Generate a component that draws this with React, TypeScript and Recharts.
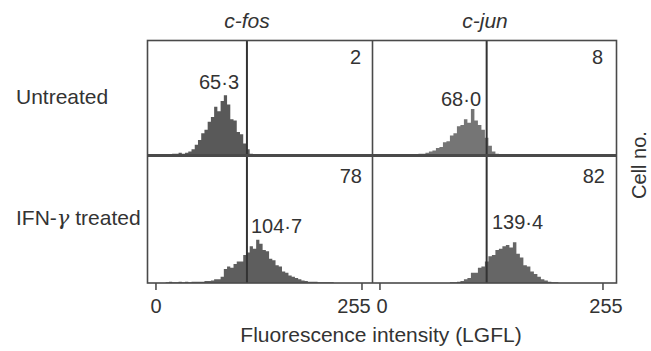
import { AreaChart, Area, XAxis, YAxis, ReferenceLine } from "recharts";

// histogram bins (fluorescence channel, 0-255), 4 channels each
const bins = [
  0, 4, 8, 12, 16, 20, 24, 28, 32, 36, 40, 44, 48, 52, 56, 60,
  64, 68, 72, 76, 80, 84, 88, 92, 96, 100, 104, 108, 112, 116, 120, 124,
  128, 132, 136, 140, 144, 148, 152, 156, 160, 164, 168, 172, 176, 180, 184, 188,
  192, 196, 200, 204, 208, 212, 216, 220, 224, 228, 232, 236, 240, 244, 248, 252,
];

// cell counts (% of panel height)
const fosUntreated = [
  0, 0, 0, 0, 0, 1, 1, 2, 1, 2, 3, 5, 9, 13, 19, 22,
  29, 33, 42, 38, 47, 52, 44, 31, 30, 20, 18, 10, 5, 1, 0, 0,
  0, 0, 0, 0, 0, 0, 0, 0, 0, 0, 0, 0, 0, 0, 0, 0,
  0, 0, 0, 0, 0, 0, 0, 0, 0, 0, 0, 0, 0, 0, 0, 0,
];
const junUntreated = [
  0, 0, 0, 0, 0, 0, 0, 0, 0, 0, 0, 1, 1, 2, 3, 4,
  6, 7, 11, 12, 17, 19, 25, 26, 31, 28, 40, 30, 26, 22, 15, 8,
  3, 1, 0, 0, 0, 0, 0, 0, 0, 0, 0, 0, 0, 0, 0, 0,
  0, 0, 0, 0, 0, 0, 0, 0, 0, 0, 0, 0, 0, 0, 0, 0,
];
const fosTreated = [
  0, 0, 0, 0.5, 1, 0.5, 0.5, 1, 0.5, 1, 0.5, 1, 1, 1, 1, 1.5,
  1.5, 2, 3, 3, 5, 11, 13, 12, 15, 17, 17, 22, 24, 29, 27, 34,
  31, 26, 25, 19, 18, 14, 13, 9, 8, 6, 5, 4, 3, 2, 1.5, 1,
  1, 1, 0.5, 0.5, 0.5, 0.5, 0.5, 0, 0, 0, 0, 0, 0, 0, 0, 0,
];
const junTreated = [
  0, 0, 0, 0, 0, 0, 0, 0, 0, 0, 0, 0, 0, 0, 0, 0,
  0, 0, 0, 0, 0.5, 0.5, 1, 1.5, 3, 4, 8, 8, 12, 13, 17, 21,
  22, 26, 27, 29, 30, 28, 32, 23, 20, 14, 13, 9, 7, 5, 3, 2,
  1, 0.5, 0.5, 0, 0, 0, 0, 0, 0, 0, 0, 0, 0, 0, 0, 0,
];

const xTicks = [0, 255];
const columns = ["c-fos", "c-jun"];
const rows = ["Untreated", "IFN-"];
const meanLabels = ["65·3", "68·0", "104·7", "139·4"];
const percentLabels = ["2", "8", "78", "82"];

const FONT = "'Liberation Sans', Arial, Helvetica, sans-serif";
const INK = "#333";

const makeTick = (shift0: number, shift255: number) => (props: any) => {
  const { x, y, payload } = props;
  const dx = payload.value === 0 ? shift0 : shift255;
  return (
    <text x={x + dx} y={y + 21} textAnchor="middle" fill={INK} fontSize={20} fontFamily={FONT}>
      {payload.value}
    </text>
  );
};

function Panel({ left, top, width, plotHeight, domain, values, gate, axis, fill, tick }: any) {
  const data = bins.map((b, i) => ({ x: b, count: values[i] }));
  return (
    <div style={{ position: "absolute", left, top }}>
      <AreaChart
        width={width + 14}
        height={plotHeight + (axis ? 40 : 0)}
        data={data}
        margin={{ top: 0, right: 14, bottom: 0, left: 0 }}
      >
        <XAxis
          type="number"
          dataKey="x"
          domain={domain}
          allowDataOverflow
          hide={!axis}
          ticks={xTicks}
          interval={0}
          axisLine={false}
          tickSize={7}
          tickLine={{ stroke: "#444", strokeWidth: 1.5 }}
          height={40}
          tick={tick}
        />
        <YAxis hide domain={[0, 100]} allowDataOverflow />
        <Area
          type="stepAfter"
          dataKey="count"
          stroke="none"
          fill={fill}
          fillOpacity={0.9}
          isAnimationActive={false}
        />
        <ReferenceLine x={gate} stroke="#333" strokeWidth={2} />
      </AreaChart>
    </div>
  );
}

export default function App() {
  const leftDomain = [-11.1, 267.4];
  const rightDomain = [-9.1, 269.9];
  return (
    <div style={{ position: "absolute", left: 0, top: 0, width: 651, height: 351, background: "#fff" }}>
      <Panel left={147} top={40} width={225} plotHeight={115} domain={leftDomain}
        values={fosUntreated} gate={112.6} fill="#474747" />
      <Panel left={372} top={40} width={244} plotHeight={115} domain={rightDomain}
        values={junUntreated} gate={122} fill="#666" />
      <Panel left={147} top={156} width={225} plotHeight={127} domain={leftDomain}
        values={fosTreated} gate={112.6} fill="#4d4d4d" axis tick={makeTick(0, -8)} />
      <Panel left={372} top={156} width={244} plotHeight={127} domain={rightDomain}
        values={junTreated} gate={122} fill="#555" axis tick={makeTick(2, 3)} />

      <svg width={651} height={351} style={{ position: "absolute", left: 0, top: 0, pointerEvents: "none" }}
        fontFamily={FONT} fill={INK}>
        <rect x={147.5} y={40.5} width={469} height={242.5} fill="none" stroke="#4a4a4a" strokeWidth={1.6} />
        <line x1={372.5} y1={40} x2={372.5} y2={283} stroke="#4a4a4a" strokeWidth={1.6} />
        <line x1={147} y1={155.5} x2={617} y2={155.5} stroke="#4a4a4a" strokeWidth={3} />

        <text x={247} y={28} textAnchor="middle" fontSize={21} fontStyle="italic">{columns[0]}</text>
        <text x={485} y={28} textAnchor="middle" fontSize={21} fontStyle="italic">{columns[1]}</text>

        <text x={16} y={104} fontSize={21}>{rows[0]}</text>
        <text x={16} y={225} fontSize={21}>
          {rows[1]}
          <tspan fontFamily="'DejaVu Serif', 'Liberation Serif', serif" fontStyle="italic">γ</tspan> treated
        </text>

        <text x={239} y={89} textAnchor="end" fontSize={20}>{meanLabels[0]}</text>
        <text x={481} y={106} textAnchor="end" fontSize={20}>{meanLabels[1]}</text>
        <text x={251} y={233} fontSize={20}>{meanLabels[2]}</text>
        <text x={492} y={229} fontSize={20}>{meanLabels[3]}</text>

        <text x={361} y={64} textAnchor="end" fontSize={20}>{percentLabels[0]}</text>
        <text x={603} y={64} textAnchor="end" fontSize={20}>{percentLabels[1]}</text>
        <text x={362} y={183} textAnchor="end" fontSize={20}>{percentLabels[2]}</text>
        <text x={605} y={183} textAnchor="end" fontSize={20}>{percentLabels[3]}</text>

        <text x={381} y={342} textAnchor="middle" fontSize={21}>Fluorescence intensity (LGFL)</text>
        <text x={646} y={165} textAnchor="middle" fontSize={20} transform="rotate(-90 646 165)">Cell no.</text>
      </svg>
    </div>
  );
}
